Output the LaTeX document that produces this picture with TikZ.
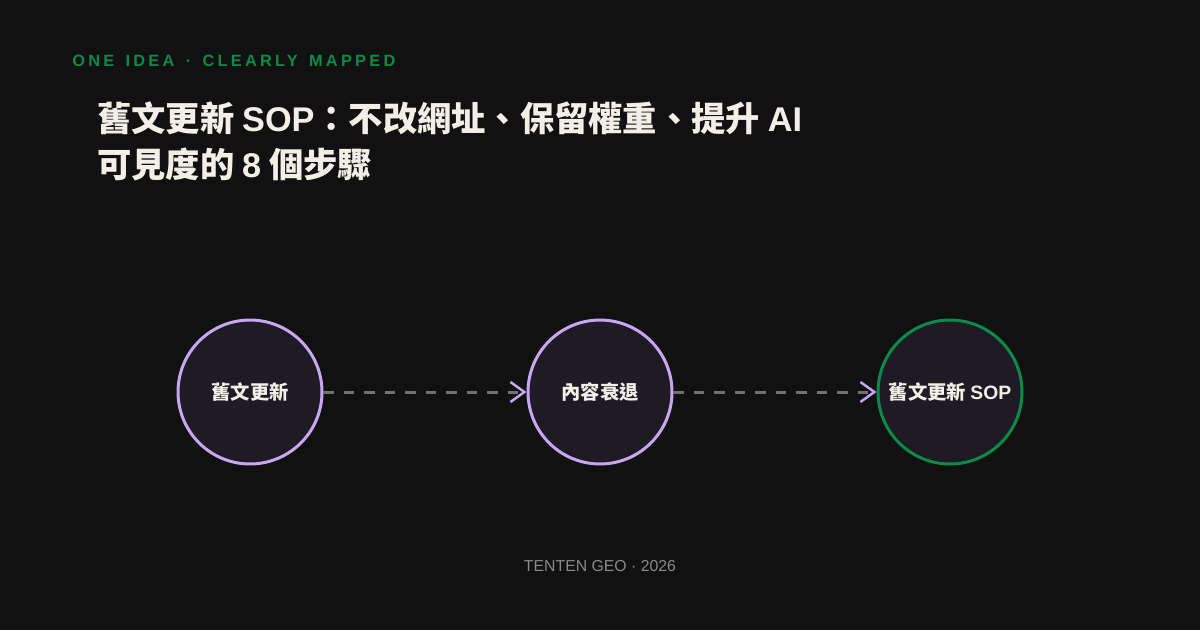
\documentclass[tikz,border=0pt]{standalone}
\usepackage{fontspec}
\setmainfont{Liberation Sans}
\newfontfamily\cjk{Noto Sans CJK TC}
\newfontfamily\latfont{Liberation Sans}
\newfontfamily\trackfont[LetterSpace=20,WordSpace=1.45]{Liberation Sans}
\newcommand\lat[1]{{\latfont #1}}
\usetikzlibrary{arrows.meta}
\definecolor{bg}{HTML}{111111}
\definecolor{nodefill}{HTML}{1E1B24}
\definecolor{lilac}{HTML}{C6A8F2}
\definecolor{mint}{HTML}{0B8A4A}
\definecolor{ink}{HTML}{F2EFE8}
\definecolor{dashgray}{HTML}{707076}
\definecolor{footgray}{HTML}{8A8A8A}
\begin{document}
\begin{tikzpicture}[x=0.02cm,y=-0.02cm,
  stage/.style={circle,draw=lilac,fill=nodefill,line width=1.7pt,minimum size=2.88cm,inner sep=0pt,text=ink,font=\cjk\bfseries\fontsize{11}{13}\selectfont},
  flow/.style={draw=dashgray,line width=1.7pt,dash pattern=on 0.21cm off 0.2cm,-{Straight Barb[length=0.28cm,width=0.4cm,color=lilac,line width=1.4pt]}},
  title/.style={anchor=base west,inner sep=0pt,text=ink,font=\cjk\bfseries\fontsize{19.5}{27}\selectfont}]
\fill[bg] (0,0) rectangle (1200,630);
\node[anchor=base west,inner sep=0pt,text=mint,font=\trackfont\bfseries\fontsize{9.3}{11}\selectfont] (kicker) at (72,66) {ONE IDEA · CLEARLY MAPPED};
\node[title] (title1) at (97,131) {舊文更新 \lat{SOP}：不改網址、保留權重、提升 \lat{AI}};
\node[title] (title2) at (97,177) {可見度的 \lat{8} 個步驟};
\node[stage] (old) at (250,392) {舊文更新};
\node[stage] (decay) at (600,392) {內容衰退};
\node[stage,draw=mint] (sop) at (950,392) {舊文更新 \lat{SOP}};
\draw[flow] (old) -- (decay);
\draw[flow] (decay) -- (sop);
\node[anchor=base,inner sep=0pt,text=footgray,font=\fontsize{9}{11}\selectfont] (footer) at (600,571) {TENTEN GEO · 2026};
\end{tikzpicture}
\end{document}
